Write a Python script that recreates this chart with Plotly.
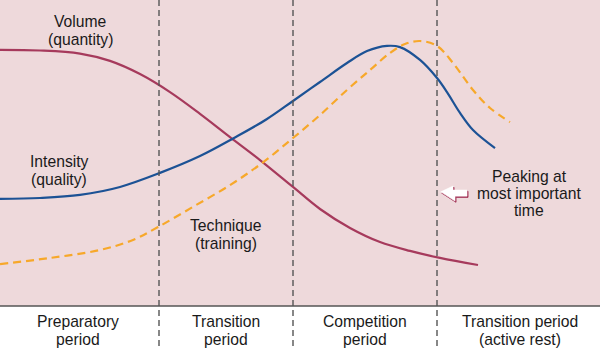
import plotly.graph_objects as go

# time axis (arbitrary units, 0..60) and relative level (0..100)
vol_x = [0, 4, 8, 11, 14, 17, 20, 23, 26, 29.3, 32, 35, 38, 41, 44, 47.8]
vol_y = [83.7, 83.5, 82.5, 80.1, 75.8, 69.9, 62.8, 55.2, 47.7, 38.9, 31.7, 25.5, 20.9, 18.0, 15.7, 13.4]

int_x = [0, 4, 8, 12, 16, 20, 23.4, 26.7, 29.3, 32, 34.7, 36.7, 38.7, 40, 42, 43.7, 44.7, 46, 47.3, 49.5]
int_y = [35.0, 35.3, 36.3, 38.9, 43.5, 49.0, 54.9, 61.1, 67.0, 73.2, 79.4, 83.3, 85.0, 84.6, 80.4, 74.5, 69.9, 63.1, 57.5, 51.6]

tec_x = [0, 5, 10, 13.3, 15.8, 19.3, 23, 26.2, 29.3, 32, 34.7, 37, 39, 40.5, 42, 43.7, 45.3, 47.3, 49, 51]
tec_y = [13.7, 15.7, 18.3, 21.6, 25.8, 32.4, 39.5, 46.7, 54.9, 62.4, 70.6, 77.1, 82.7, 85.6, 86.6, 85.0, 79.4, 70.6, 64.7, 60.1]

period_bounds = [15.9, 29.3, 43.7]
period_lines = [["Preparatory", "period"], ["Transition", "period"], ["Competition", "period"], ["Transition period", "(active rest)"]]
period_label_x = [7.8, 22.6, 36.5, 52.0]
period_line_y = [-5.1, -10.9]

curve_lines = [["Volume", "(quantity)"], ["Intensity", "(quality)"], ["Technique", "(training)"],
               ["Peaking at", "most important", "time"]]
curve_label_x = [8.0, 5.9, 22.6, 52.9]
curve_line_y = [[92.9, 87.2], [47.2, 41.4], [26.2, 20.5], [42.3, 36.8, 31.1]]

CRIMSON = "#a63a5c"
BLUE = "#1c5295"
ORANGE = "#f7a82a"
PINK = "#eed9db"
GRAY = "#555555"
TEXT = "#1a1a1a"
FONT = "Arial, Liberation Sans, sans-serif"
FS = 15.7

fig = go.Figure()
fig.add_trace(go.Scatter(x=vol_x, y=vol_y, mode="lines", line=dict(color=CRIMSON, width=2.2, shape="spline"), hoverinfo="skip"))
fig.add_trace(go.Scatter(x=int_x, y=int_y, mode="lines", line=dict(color=BLUE, width=2.2, shape="spline"), hoverinfo="skip"))
fig.add_trace(go.Scatter(x=tec_x, y=tec_y, mode="lines", line=dict(color=ORANGE, width=2.2, shape="spline", dash="8px,5px"), hoverinfo="skip"))

shapes = [
    dict(type="rect", xref="x", yref="y", x0=0, x1=60, y0=0, y1=100, fillcolor=PINK, line=dict(width=0), layer="below"),
    dict(type="line", xref="x", yref="y", x0=0, x1=60, y0=0, y1=0, line=dict(color=GRAY, width=1.6), layer="above"),
]
for b in period_bounds:
    shapes.append(dict(type="line", xref="x", yref="y", x0=b, x1=b, y0=-13.1, y1=100,
                       line=dict(color=GRAY, width=1.4, dash="6px,4px"), layer="above"))
# block arrow pointing left (shadow then face)
shapes.append(dict(type="path", xref="x", yref="y",
                   path="M 44.17 36.9 L 45.4 38.8 L 45.4 37.5 L 46.8 37.5 L 46.8 35.5 L 45.6 35.5 L 45.6 33.9 Z",
                   fillcolor=CRIMSON, line=dict(color=CRIMSON, width=1), layer="above"))
shapes.append(dict(type="path", xref="x", yref="y",
                   path="M 44.07 37.3 L 45.3 39.2 L 45.3 37.9 L 46.7 37.9 L 46.7 35.9 L 45.5 35.9 L 45.5 34.3 Z",
                   fillcolor="white", line=dict(color="white", width=0.5), layer="above"))

annotations = []
for lines, x, ys in zip(curve_lines, curve_label_x, curve_line_y):
    for t, y in zip(lines, ys):
        annotations.append(dict(text=t, x=x, y=y, xref="x", yref="y", showarrow=False, borderpad=0,
                                font=dict(size=FS, color=TEXT, family=FONT), align="center"))
for lines, x in zip(period_lines, period_label_x):
    for t, y in zip(lines, period_line_y):
        annotations.append(dict(text=t, x=x, y=y, xref="x", yref="y", showarrow=False, borderpad=0,
                                font=dict(size=FS, color=TEXT, family=FONT), align="center"))

fig.update_layout(
    width=600, height=360,
    margin=dict(l=0, r=0, t=0, b=0),
    paper_bgcolor="white", plot_bgcolor="white",
    showlegend=False,
    shapes=shapes, annotations=annotations,
    xaxis=dict(range=[0, 60], visible=False, fixedrange=True),
    yaxis=dict(range=[-17.65, 100], visible=False, fixedrange=True),
)

fig.write_html("out.html", config={"displayModeBar": False},
               post_script="document.body.style.margin='0';document.body.style.overflow='hidden';")
